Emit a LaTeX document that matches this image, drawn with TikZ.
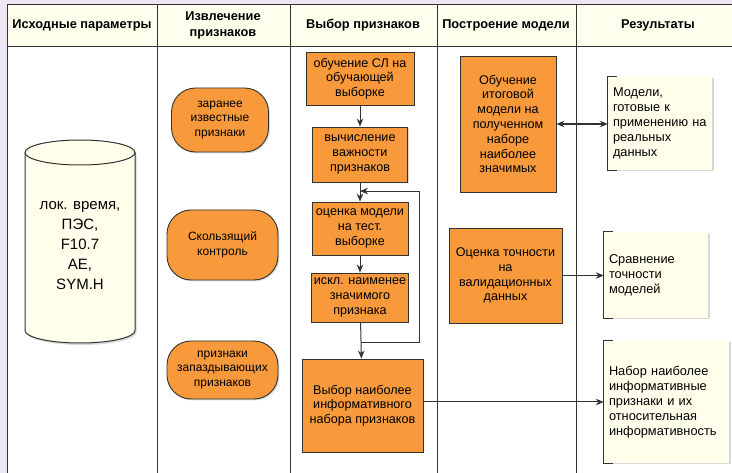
\documentclass[tikz,border=0pt]{standalone}
\usepackage{fontspec}
\setmainfont{Liberation Sans}
\usetikzlibrary{arrows.meta,positioning,calc,shadows}
\definecolor{fsOrange}{HTML}{F89A3C}
\definecolor{fsCream}{HTML}{FFFFEC}
\definecolor{fsHead}{HTML}{FFFFEE}
\definecolor{fsLine}{HTML}{333333}
\definecolor{fsBack}{HTML}{ECE6F4}

\begin{document}
\begin{tikzpicture}[x=1pt, y=-1pt,
  orBox/.style  ={rectangle, draw=fsLine, fill=fsOrange, line width=0.9pt, align=center, inner sep=2pt,
                  font=\fontsize{12.6}{14.8}\selectfont,
                  drop shadow={shadow xshift=1.3pt, shadow yshift=-1.3pt, opacity=0.3}},
  capsule/.style={orBox, rounded corners=24pt, font=\fontsize{12}{14.5}\selectfont},
  noteBox/.style={rectangle, fill=fsCream, align=left, inner xsep=5pt, inner ysep=2pt,
                  font=\fontsize{12.8}{15}\selectfont,
                  drop shadow={shadow xshift=1.5pt, shadow yshift=-1.5pt, opacity=0.3}},
  headTxt/.style={font=\bfseries\fontsize{12.8}{16}\selectfont, align=center},
  arr/.style    ={-{Stealth[length=8pt,width=6.5pt]}, draw=fsLine, line width=1pt},
]
\useasboundingbox (0,0) rectangle (732,473);
\clip (0,0) rectangle (732,473);

% swimlane frame
\fill[fsBack] (0,0) rectangle (732,473);
\fill[white] (7,5) rectangle (745,480);
\fill[fsHead] (7,5) rectangle (745,47);
\draw[fsLine, line width=1pt] (7,480) -- (7,5) -- (745,5);
\draw[fsLine, line width=1pt] (7,47) -- (745,47);
\foreach \x in {157,290,437,576}
  \draw[fsLine, line width=1pt] (\x,5) -- (\x,480);

\node[headTxt] (hdIn)  at (82,25)  {Исходные параметры};
\node[headTxt] (hdExt) at (223,25) {Извлечение\\признаков};
\node[headTxt] (hdSel) at (363,25) {Выбор признаков};
\node[headTxt] (hdMod) at (506,25) {Построение модели};
\node[headTxt] (hdRes) at (658,25) {Результаты};

% source data (cylinder)
\filldraw[fill=fsCream, draw=fsLine, line width=1pt,
  drop shadow={shadow xshift=1.5pt, shadow yshift=-2pt, opacity=0.3}]
  (25,152.5) -- (25,330.5) arc (180:0:55 and 12.5) -- (135,152.5) arc (0:-180:55 and 12.5) -- cycle;
\draw[fsLine, line width=1pt] (25,152.5) arc (180:0:55 and 12.5);
\node[align=center, font=\fontsize{15}{20}\selectfont] (srcData) at (80,246)
  {лок. время,\\ПЭС,\\F10.7\\AE,\\SYM.H};

% feature extraction
\node[capsule, minimum width=97pt,  minimum height=64pt] (knownFt) at (220,120)   {заранее\\известные\\признаки};
\node[capsule, minimum width=111pt, minimum height=70pt] (slideCv) at (222.5,245) {Скользящий\\контроль};
\node[capsule, minimum width=111pt, minimum height=58pt] (lagFt)   at (222.5,370) {признаки\\запаздывающих\\признаков};

% feature selection
\node[orBox, minimum width=108pt, minimum height=53pt] (trainCL) at (360,78.5)  {обучение СЛ на\\обучающей\\выборке};
\node[orBox, minimum width=95pt,  minimum height=55pt] (impCalc) at (360,154.5) {вычисление\\важности\\признаков};
\node[orBox, minimum width=96pt,  minimum height=53pt] (testEv)  at (360,228.5) {оценка модели\\на тест.\\выборке};
\node[orBox, minimum width=96pt,  minimum height=49pt] (dropFt)  at (360,297.5) {искл. наименее\\значимого\\признака};
\node[orBox, minimum width=121pt, minimum height=93pt] (bestSet) at (362.5,405.5) {Выбор наиболее\\информативного\\набора признаков};

% model building
\node[orBox, minimum width=96pt,  minimum height=136pt] (finTrain) at (508,124)   {Обучение\\итоговой\\модели на\\полученном\\наборе\\наиболее\\значимых};
\node[orBox, minimum width=113pt, minimum height=95pt]  (valAcc)   at (505.5,275.5) {Оценка точности\\на\\валидационных\\данных};

% results
\node[noteBox, text width=94pt,  minimum height=93pt]  (resModel) at (660,123.5) {Модели,\\готовые~к\\применению~на\\реальных\\данных};
\node[noteBox, text width=94pt,  minimum height=86pt]  (resCmp)   at (656,275)   {Сравнение\\точности\\моделей};
\node[noteBox, text width=115pt, minimum height=122pt] (resSet)   at (666.5,402) {Набор~наиболее\\информативные\\признаки~и~их\\относительная\\информативность};
\foreach \n in {resModel,resCmp,resSet}
  \draw[fsLine, line width=1.3pt] ([xshift=9pt]\n.north west) -- (\n.north west) -- (\n.south west) -- ([xshift=9pt]\n.south west);

% connectors
\draw[arr] (trainCL) -- (impCalc);
\draw[arr] (impCalc) -- (testEv);
\draw[arr] (testEv) -- (dropFt);
\draw[arr] (dropFt) -- (bestSet);
\coordinate (loopBot) at ($(dropFt.south)!0.55!(bestSet.north)$);
\coordinate (loopTop) at ($(impCalc.south)!0.45!(testEv.north)$);
\coordinate (loopR) at (419,0);
\draw[arr] (loopBot) -- (loopBot -| loopR) |- (loopTop);
\draw[{Stealth[length=8pt,width=6.5pt]}-{Stealth[length=8pt,width=6.5pt]}, draw=fsLine, line width=1.8pt]
  (finTrain.east) -- (finTrain.east -| resModel.west);
\draw[arr] (valAcc.east) -- (valAcc.east -| resCmp.west);
\draw[arr] (bestSet.east |- resSet.west) -- (resSet.west);
\end{tikzpicture}
\end{document}
